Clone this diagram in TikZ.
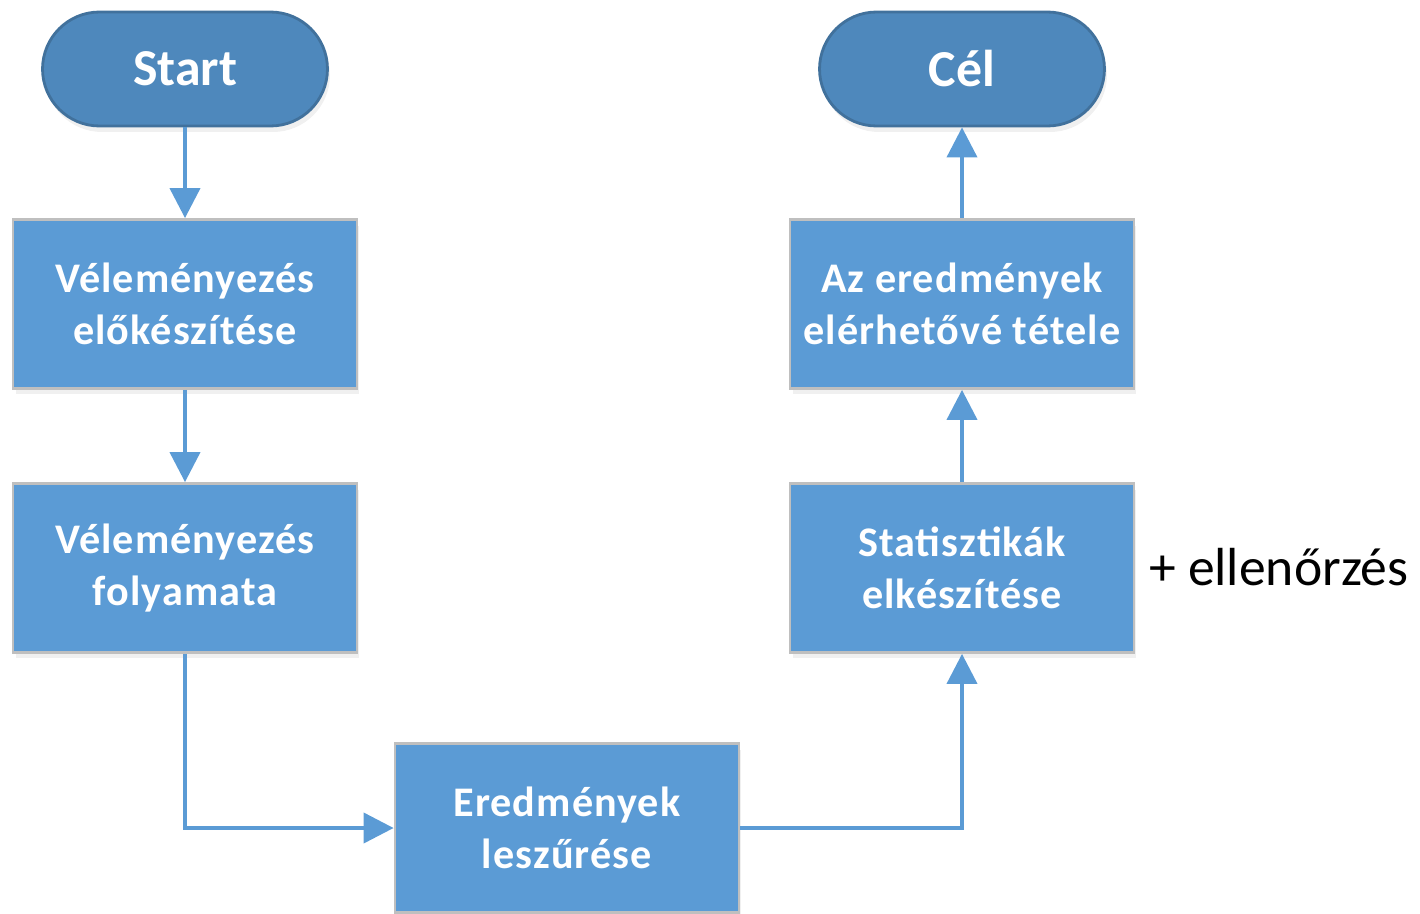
\documentclass[tikz,border=0pt]{standalone}
\usepackage{fontspec}
\setmainfont{Carlito}
\newfontfamily\boxfont[LetterSpace=2.6]{Carlito}
\usetikzlibrary{arrows.meta,shadows}

\definecolor{boxblue}{HTML}{5B9BD5}
\definecolor{termblue}{HTML}{4E88BC}
\definecolor{termline}{HTML}{41719C}
\definecolor{boxline}{HTML}{BFBFBF}

\tikzset{
    stepbox/.style={rectangle, fill=boxblue, draw=boxline, line width=1.6pt,
        minimum width=6.88cm, minimum height=3.38cm, align=center,
        text=white, font=\boxfont\bfseries\fontsize{24}{29.6}\selectfont,
        drop shadow={opacity=0.12, shadow xshift=0.05cm, shadow yshift=-0.12cm}},
    terminal/.style={rectangle, rounded corners=1.14cm, fill=termblue, draw=termline,
        line width=1.6pt, minimum width=5.7cm, minimum height=2.28cm,
        text=white, font=\bfseries\fontsize{29.5}{34}\selectfont,
        drop shadow={opacity=0.12, shadow xshift=0.05cm, shadow yshift=-0.12cm}},
    flow/.style={draw=boxblue, line width=2.2pt, -{Triangle[length=0.6cm,width=0.6cm]}}
}

\begin{document}
\begin{tikzpicture}[x=0.02cm, y=-0.02cm]
    % canvas
    \useasboundingbox (0,0) rectangle (1420,913);

    % Terminals
    \node[terminal] (start) at (185,69) {Start};
    \node[terminal] (cel) at (962,69) {Cél};

    % Process boxes
    \node[stepbox] (prep) at (185,304) {Véleményezés\\előkészítése};
    \node[stepbox] (proc) at (185,568) {Véleményezés\\folyamata};
    \node[stepbox] (filt) at (567,828) {Eredmények\\leszűrése};
    \node[stepbox] (stat) at (962,568) {Statisztikák\\elkészítése};
    \node[stepbox] (publ) at (962,304) {Az eredmények\\elérhetővé tétele};

    % Side note
    \node[anchor=west, font=\fontsize{30.5}{36}\selectfont] (note) at (1143,567) {+ ellenőrzés};

    % Connectors
    \draw[flow] (start) -- (prep);
    \draw[flow] (prep) -- (proc);
    \draw[flow] (proc.south) |- (filt.west);
    \draw[flow] (filt.east) -| (stat.south);
    \draw[flow] (stat) -- (publ);
    \draw[flow] (publ) -- (cel);
\end{tikzpicture}
\end{document}
